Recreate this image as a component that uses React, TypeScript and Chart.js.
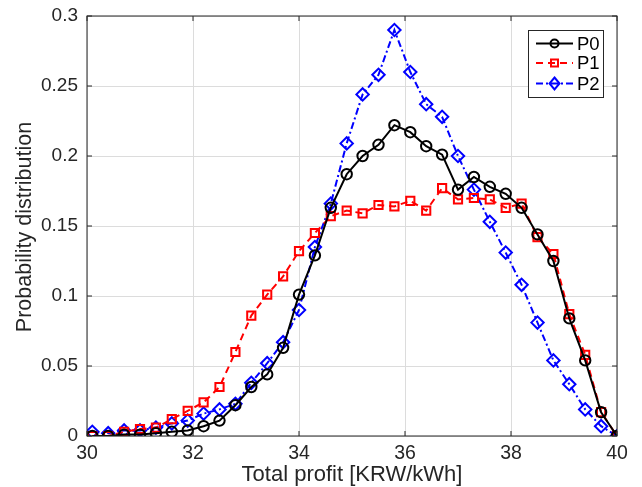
import React, { useEffect, useRef } from "react";
import { Chart, registerables } from "chart.js";

Chart.register(...registerables);

const profitX = [30.1, 30.4, 30.7, 31.0, 31.3, 31.6, 31.9, 32.2, 32.5, 32.8, 33.1, 33.4, 33.7, 34.0, 34.3, 34.6, 34.9, 35.2, 35.5, 35.8, 36.1, 36.4, 36.7, 37.0, 37.3, 37.6, 37.9, 38.2, 38.5, 38.8, 39.1, 39.4, 39.7, 40.0];

const p0Values = [0, 0, 0.001, 0.001, 0.002, 0.003, 0.004, 0.007, 0.011, 0.022, 0.035, 0.044, 0.063, 0.101, 0.129, 0.163, 0.187, 0.2, 0.208, 0.222, 0.217, 0.207, 0.201, 0.176, 0.185, 0.178, 0.173, 0.163, 0.144, 0.125, 0.084, 0.054, 0.017, 0];
const p1Values = [0, 0, 0.003, 0.005, 0.006, 0.012, 0.018, 0.024, 0.035, 0.06, 0.086, 0.101, 0.114, 0.132, 0.145, 0.157, 0.161, 0.159, 0.165, 0.164, 0.168, 0.161, 0.177, 0.169, 0.17, 0.169, 0.163, 0.166, 0.142, 0.13, 0.087, 0.058, 0.017, 0];
const p2Values = [0.003, 0.002, 0.004, 0.004, 0.006, 0.009, 0.011, 0.016, 0.019, 0.023, 0.038, 0.052, 0.067, 0.09, 0.135, 0.166, 0.209, 0.244, 0.258, 0.29, 0.26, 0.237, 0.228, 0.2, 0.176, 0.153, 0.131, 0.108, 0.081, 0.054, 0.037, 0.019, 0.007, 0];

const xTickLabels = ["30", "32", "34", "36", "38", "40"];
const yTickLabels = ["0", "0.05", "0.1", "0.15", "0.2", "0.25", "0.3"];
const seriesNames = ["P0", "P1", "P2"];

const FONT = "'Liberation Sans', Arial, Helvetica, sans-serif";
const AXIS = "#262626";

const makePoints = (vals: number[]) => vals.map((v, i) => ({ x: profitX[i], y: v }));

const styles = [
  { color: "#000000", dash: [] as number[], point: "circle", radius: 5.2 },
  { color: "#ff0000", dash: [7, 5], point: "rect", radius: 5.8 },
  { color: "#0000ff", dash: [7, 3, 2, 3], point: "rectRot", radius: 6.2 },
];

const framePlugin = {
  id: "frame",
  afterDraw(chart: any) {
    const { ctx, chartArea } = chart;
    const { left, right, top, bottom } = chartArea;
    const xs = chart.scales.x;
    const ys = chart.scales.y;
    ctx.save();
    ctx.strokeStyle = AXIS;
    ctx.lineWidth = 1;
    ctx.strokeRect(left, top, right - left, bottom - top);
    const tl = 5;
    ctx.beginPath();
    xs.ticks.forEach((t: any) => {
      const px = xs.getPixelForValue(t.value);
      ctx.moveTo(px, bottom);
      ctx.lineTo(px, bottom - tl);
      ctx.moveTo(px, top);
      ctx.lineTo(px, top + tl);
    });
    ys.ticks.forEach((t: any) => {
      const py = ys.getPixelForValue(t.value);
      ctx.moveTo(left, py);
      ctx.lineTo(left + tl, py);
      ctx.moveTo(right, py);
      ctx.lineTo(right - tl, py);
    });
    ctx.stroke();

    // axis titles
    ctx.fillStyle = AXIS;
    ctx.font = `22px ${FONT}`;
    ctx.textAlign = "center";
    ctx.textBaseline = "alphabetic";
    ctx.fillText("Total profit [KRW/kWh]", (left + right) / 2, 481);
    ctx.save();
    ctx.translate(31, (top + bottom) / 2 + 1);
    ctx.rotate(-Math.PI / 2);
    ctx.font = `21.5px ${FONT}`;
    ctx.fillText("Probability distribution", 0, 0);
    ctx.restore();

    // legend
    const bx = 528.5, by = 30.5, bw = 75, bh = 67;
    ctx.fillStyle = "#ffffff";
    ctx.fillRect(bx, by, bw, bh);
    ctx.strokeStyle = AXIS;
    ctx.lineWidth = 1;
    ctx.strokeRect(bx, by, bw, bh);
    const rows = [43.5, 63, 83.5];
    rows.forEach((ry, i) => {
      const s = styles[i];
      ctx.save();
      ctx.strokeStyle = s.color;
      ctx.lineWidth = 2;
      ctx.setLineDash(s.dash);
      ctx.beginPath();
      ctx.moveTo(536, ry);
      ctx.lineTo(573, ry);
      ctx.stroke();
      ctx.setLineDash([]);
      ctx.beginPath();
      const mx = 554.5;
      if (s.point === "circle") {
        ctx.arc(mx, ry, 4, 0, Math.PI * 2);
      } else if (s.point === "rect") {
        ctx.rect(mx - 3.5, ry - 3.5, 7, 7);
      } else {
        ctx.moveTo(mx, ry - 6);
        ctx.lineTo(mx + 5, ry);
        ctx.lineTo(mx, ry + 6);
        ctx.lineTo(mx - 5, ry);
        ctx.closePath();
      }
      ctx.stroke();
      ctx.restore();
      ctx.fillStyle = "#000000";
      ctx.font = `18.5px ${FONT}`;
      ctx.textAlign = "left";
      ctx.textBaseline = "middle";
      ctx.fillText(seriesNames[i], 577, ry + 1);
    });
    ctx.restore();
  },
};

export default function App() {
  const ref = useRef<HTMLCanvasElement | null>(null);
  useEffect(() => {
    document.body.style.margin = "0";
    const canvas = ref.current;
    if (!canvas) return;
    const datasets = [p0Values, p1Values, p2Values].map((vals, i) => ({
      label: seriesNames[i],
      data: makePoints(vals),
      borderColor: styles[i].color,
      borderWidth: 2,
      borderDash: styles[i].dash,
      pointStyle: styles[i].point as any,
      pointRadius: styles[i].radius,
      pointBorderColor: styles[i].color,
      pointBorderWidth: 2,
      pointBackgroundColor: "rgba(0,0,0,0)",
      tension: 0,
      fill: false,
    }));
    const chart = new Chart(canvas, {
      type: "line",
      data: { datasets },
      plugins: [framePlugin],
      options: {
        animation: false,
        responsive: false,
        devicePixelRatio: 1,
        layout: { padding: { left: 0, right: 25, top: 16, bottom: 0 } },
        plugins: { legend: { display: false }, tooltip: { enabled: false } },
        scales: {
          x: {
            type: "linear",
            min: 30,
            max: 40,
            afterFit(scale: any) {
              scale.height = 51;
              scale.paddingLeft = 0;
              scale.paddingRight = 0;
            },
            ticks: {
              stepSize: 2,
              padding: 6,
              color: AXIS,
              font: { family: FONT, size: 19.5 },
              maxRotation: 0,
              callback: (v: any) => {
                const idx = Math.round((Number(v) - 30) / 2);
                return xTickLabels[idx] ?? "";
              },
            },
            grid: { color: "#dcdcdc", drawTicks: false, lineWidth: 1 },
            border: { display: false },
          },
          y: {
            type: "linear",
            min: 0,
            max: 0.3,
            afterFit(scale: any) {
              scale.width = 87;
              scale.paddingTop = 0;
              scale.paddingBottom = 0;
            },
            ticks: {
              stepSize: 0.05,
              padding: 9,
              color: AXIS,
              font: { family: FONT, size: 19 },
              callback: (v: any) => {
                const idx = Math.round(Number(v) / 0.05);
                return yTickLabels[idx] ?? "";
              },
            },
            grid: { color: "#dcdcdc", drawTicks: false, lineWidth: 1 },
            border: { display: false },
          },
        },
      },
    });
    return () => chart.destroy();
  }, []);
  return (
    <div style={{ width: 642, height: 487, background: "#ffffff" }}>
      <canvas ref={ref} width={642} height={487} style={{ display: "block" }} />
    </div>
  );
}
